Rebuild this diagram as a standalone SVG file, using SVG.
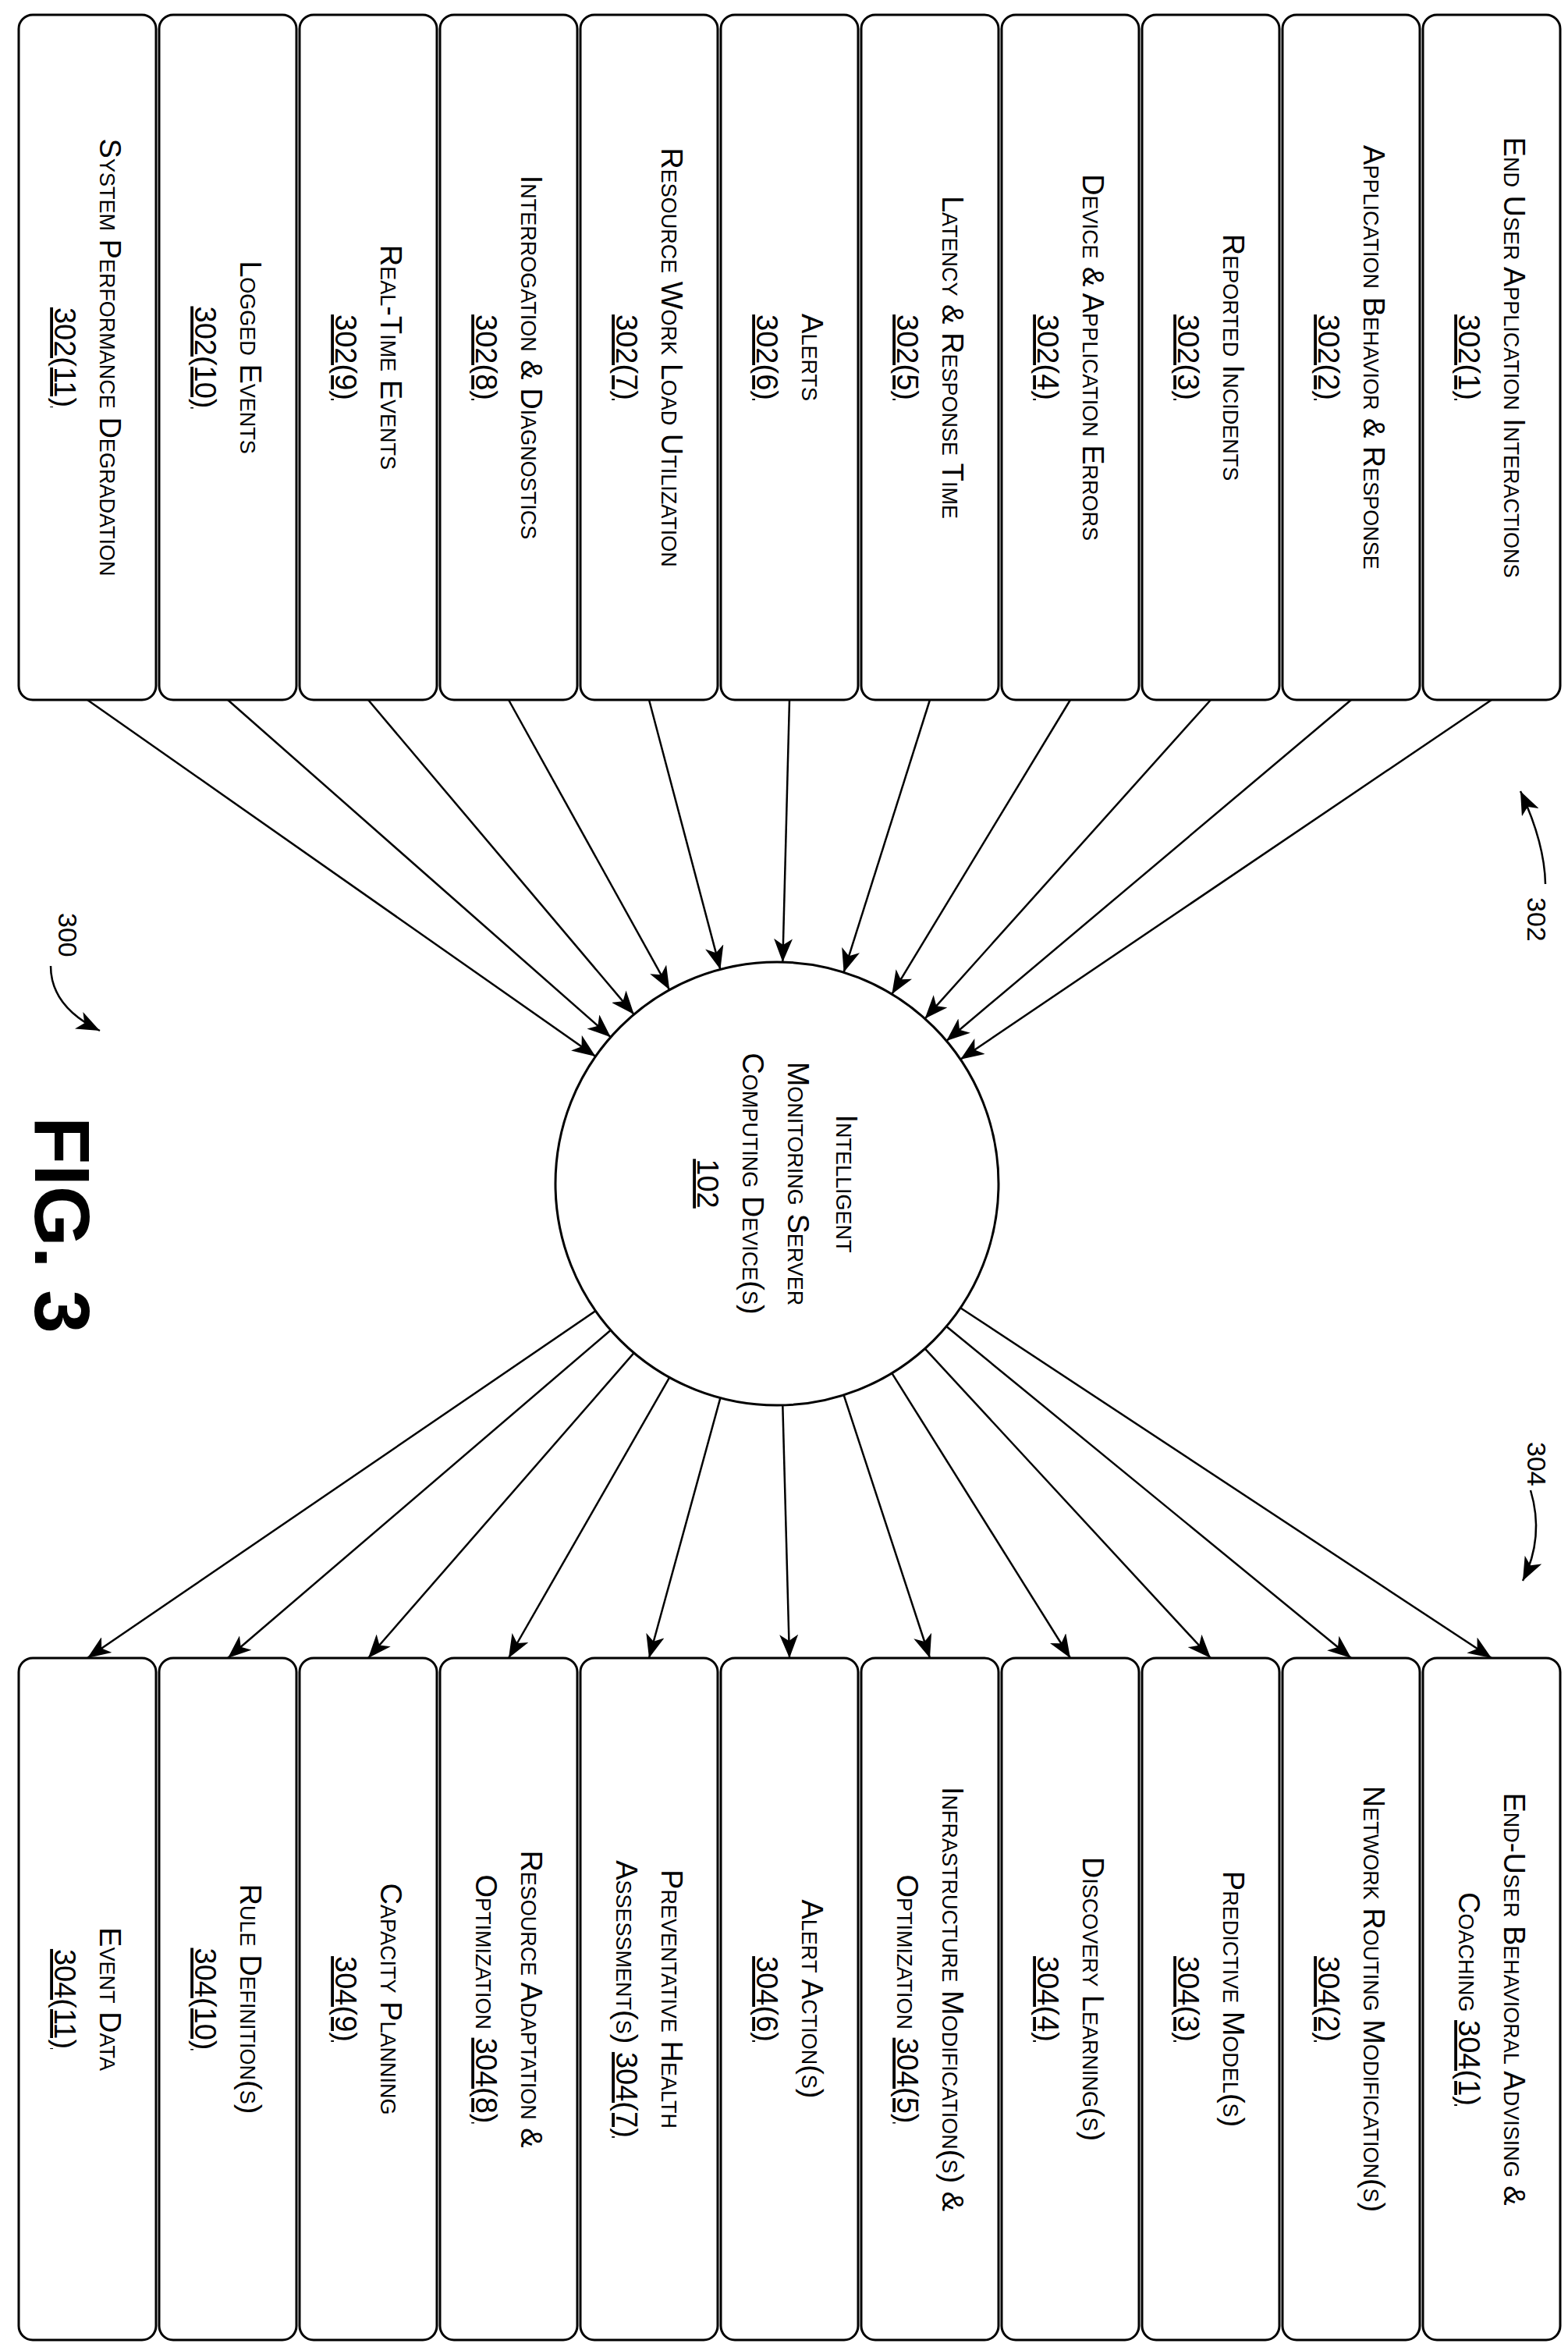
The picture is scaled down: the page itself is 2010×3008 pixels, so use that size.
<svg xmlns="http://www.w3.org/2000/svg" width="2010" height="3008" viewBox="0 0 2010 3008">
<style>
.b{fill:#fff;stroke:#000;stroke-width:3}
.t{font-family:"Liberation Sans",Arial,sans-serif;font-size:38px;font-variant:small-caps;text-anchor:middle;fill:#000}
.u{text-decoration:underline}
.c{stroke:#000;stroke-width:2.5;fill:none;marker-end:url(#a)}
.l{font-family:"Liberation Sans",Arial,sans-serif;font-size:34px;fill:#000}
</style>
<defs>
<marker id="a" viewBox="0 0 12 10" refX="12" refY="5" markerWidth="12" markerHeight="10" markerUnits="userSpaceOnUse" orient="auto">
<path d="M0,0 L12,5 L0,10 z" fill="#000" transform="scale(2.2) translate(-6.5,-2.7)"/>
</marker>
<marker id="h" viewBox="0 0 30 24" refX="30" refY="12" markerWidth="30" markerHeight="24" markerUnits="userSpaceOnUse" orient="auto">
<path d="M0,0 L30,12 L0,24 L8,12 z" fill="#000"/>
</marker>
</defs>
<style>.c{marker-end:url(#h)}</style>
<rect width="2010" height="3008" fill="#fff"/>
<g transform="translate(2010,0) rotate(90)">
<g id="connectors">
<line class="c" x1="897" y1="98" x2="1357.8" y2="778.8"/>
<line class="c" x1="897" y1="278" x2="1334" y2="796.8"/>
<line class="c" x1="897" y1="458" x2="1305.6" y2="824.4"/>
<line class="c" x1="897" y1="638" x2="1274.1" y2="866.7"/>
<line class="c" x1="897" y1="818" x2="1246.2" y2="928.4"/>
<line class="c" x1="897" y1="998" x2="1233.1" y2="1006.7"/>
<line class="c" x1="897" y1="1178" x2="1242.4" y2="1086.6"/>
<line class="c" x1="897" y1="1358" x2="1268.6" y2="1151.8"/>
<line class="c" x1="897" y1="1538" x2="1300.1" y2="1197.3"/>
<line class="c" x1="897" y1="1718" x2="1329.3" y2="1227.1"/>
<line class="c" x1="897" y1="1898" x2="1353.9" y2="1246.5"/>
<line class="c" x1="1676.2" y1="778.8" x2="2125" y2="98"/>
<line class="c" x1="1700" y1="796.8" x2="2125" y2="278"/>
<line class="c" x1="1728.4" y1="824.4" x2="2125" y2="458"/>
<line class="c" x1="1759.9" y1="866.7" x2="2125" y2="638"/>
<line class="c" x1="1787.8" y1="928.4" x2="2125" y2="818"/>
<line class="c" x1="1800.9" y1="1006.7" x2="2125" y2="998"/>
<line class="c" x1="1791.6" y1="1086.6" x2="2125" y2="1178"/>
<line class="c" x1="1765.4" y1="1151.8" x2="2125" y2="1358"/>
<line class="c" x1="1733.9" y1="1197.3" x2="2125" y2="1538"/>
<line class="c" x1="1704.7" y1="1227.1" x2="2125" y2="1718"/>
<line class="c" x1="1680.1" y1="1246.5" x2="2125" y2="1898"/>
<path class="c" d="M1133,29 Q1080,30 1014,61"/>
<path class="c" d="M1910,48 Q1970,30 2026,58"/>
<path class="c" d="M1238,1945 Q1290,1945 1321,1882"/>
</g>
<g id="hub"><circle cx="1517" cy="1014" r="284" fill="#fff" stroke="#000" stroke-width="3"/>
<text class="t" x="1517" y="938">Intelligent</text>
<text class="t" x="1517" y="1000">Monitoring Server</text>
<text class="t" x="1517" y="1058">Computing Device(s)</text>
<text class="t u" x="1517" y="1116">102</text></g>
<g id="in1"><rect class="b" x="19" y="10" width="878" height="176" rx="18"/><text class="t" x="458" y="82">End User Application Interactions</text><text class="t u" x="458" y="140">302(1)</text></g>
<g id="in2"><rect class="b" x="19" y="190" width="878" height="176" rx="18"/><text class="t" x="458" y="262">Application Behavior &amp; Response</text><text class="t u" x="458" y="320">302(2)</text></g>
<g id="in3"><rect class="b" x="19" y="370" width="878" height="176" rx="18"/><text class="t" x="458" y="442">Reported Incidents</text><text class="t u" x="458" y="500">302(3)</text></g>
<g id="in4"><rect class="b" x="19" y="550" width="878" height="176" rx="18"/><text class="t" x="458" y="622">Device &amp; Application Errors</text><text class="t u" x="458" y="680">302(4)</text></g>
<g id="in5"><rect class="b" x="19" y="730" width="878" height="176" rx="18"/><text class="t" x="458" y="802">Latency &amp; Response Time</text><text class="t u" x="458" y="860">302(5)</text></g>
<g id="in6"><rect class="b" x="19" y="910" width="878" height="176" rx="18"/><text class="t" x="458" y="982">Alerts</text><text class="t u" x="458" y="1040">302(6)</text></g>
<g id="in7"><rect class="b" x="19" y="1090" width="878" height="176" rx="18"/><text class="t" x="458" y="1162">Resource Work Load Utilization</text><text class="t u" x="458" y="1220">302(7)</text></g>
<g id="in8"><rect class="b" x="19" y="1270" width="878" height="176" rx="18"/><text class="t" x="458" y="1342">Interrogation &amp; Diagnostics</text><text class="t u" x="458" y="1400">302(8)</text></g>
<g id="in9"><rect class="b" x="19" y="1450" width="878" height="176" rx="18"/><text class="t" x="458" y="1522">Real-Time Events</text><text class="t u" x="458" y="1580">302(9)</text></g>
<g id="in10"><rect class="b" x="19" y="1630" width="878" height="176" rx="18"/><text class="t" x="458" y="1702">Logged Events</text><text class="t u" x="458" y="1760">302(10)</text></g>
<g id="in11"><rect class="b" x="19" y="1810" width="878" height="176" rx="18"/><text class="t" x="458" y="1882">System Performance Degradation</text><text class="t u" x="458" y="1940">302(11)</text></g>
<g id="out1"><rect class="b" x="2125" y="10" width="874" height="176" rx="18"/><text class="t" x="2562" y="82">End-User Behavioral Advising &amp;</text><text class="t" x="2562" y="140">Coaching <tspan class="u">304(1)</tspan></text></g>
<g id="out2"><rect class="b" x="2125" y="190" width="874" height="176" rx="18"/><text class="t" x="2562" y="262">Network Routing Modification(s)</text><text class="t u" x="2562" y="320">304(2)</text></g>
<g id="out3"><rect class="b" x="2125" y="370" width="874" height="176" rx="18"/><text class="t" x="2562" y="442">Predictive Model(s)</text><text class="t u" x="2562" y="500">304(3)</text></g>
<g id="out4"><rect class="b" x="2125" y="550" width="874" height="176" rx="18"/><text class="t" x="2562" y="622">Discovery Learning(s)</text><text class="t u" x="2562" y="680">304(4)</text></g>
<g id="out5"><rect class="b" x="2125" y="730" width="874" height="176" rx="18"/><text class="t" x="2562" y="802">Infrastructure Modification(s) &amp;</text><text class="t" x="2562" y="860">Optimization <tspan class="u">304(5)</tspan></text></g>
<g id="out6"><rect class="b" x="2125" y="910" width="874" height="176" rx="18"/><text class="t" x="2562" y="982">Alert Action(s)</text><text class="t u" x="2562" y="1040">304(6)</text></g>
<g id="out7"><rect class="b" x="2125" y="1090" width="874" height="176" rx="18"/><text class="t" x="2562" y="1162">Preventative Health</text><text class="t" x="2562" y="1220">Assessment(s) <tspan class="u">304(7)</tspan></text></g>
<g id="out8"><rect class="b" x="2125" y="1270" width="874" height="176" rx="18"/><text class="t" x="2562" y="1342">Resource Adaptation &amp;</text><text class="t" x="2562" y="1400">Optimization <tspan class="u">304(8)</tspan></text></g>
<g id="out9"><rect class="b" x="2125" y="1450" width="874" height="176" rx="18"/><text class="t" x="2562" y="1522">Capacity Planning</text><text class="t u" x="2562" y="1580">304(9)</text></g>
<g id="out10"><rect class="b" x="2125" y="1630" width="874" height="176" rx="18"/><text class="t" x="2562" y="1702">Rule Definition(s)</text><text class="t u" x="2562" y="1760">304(10)</text></g>
<g id="out11"><rect class="b" x="2125" y="1810" width="874" height="176" rx="18"/><text class="t" x="2562" y="1882">Event Data</text><text class="t u" x="2562" y="1940">304(11)</text></g>
<g id="labels">
<text class="l" x="1150" y="52">302</text>
<text class="l" x="1848" y="52">304</text>
<text class="l" x="1170" y="1935">300</text>
<text x="1570" y="1965" text-anchor="middle" font-family="Liberation Sans,Arial,sans-serif" font-weight="bold" font-size="100">FIG. 3</text>
</g>
</g>
</svg>
